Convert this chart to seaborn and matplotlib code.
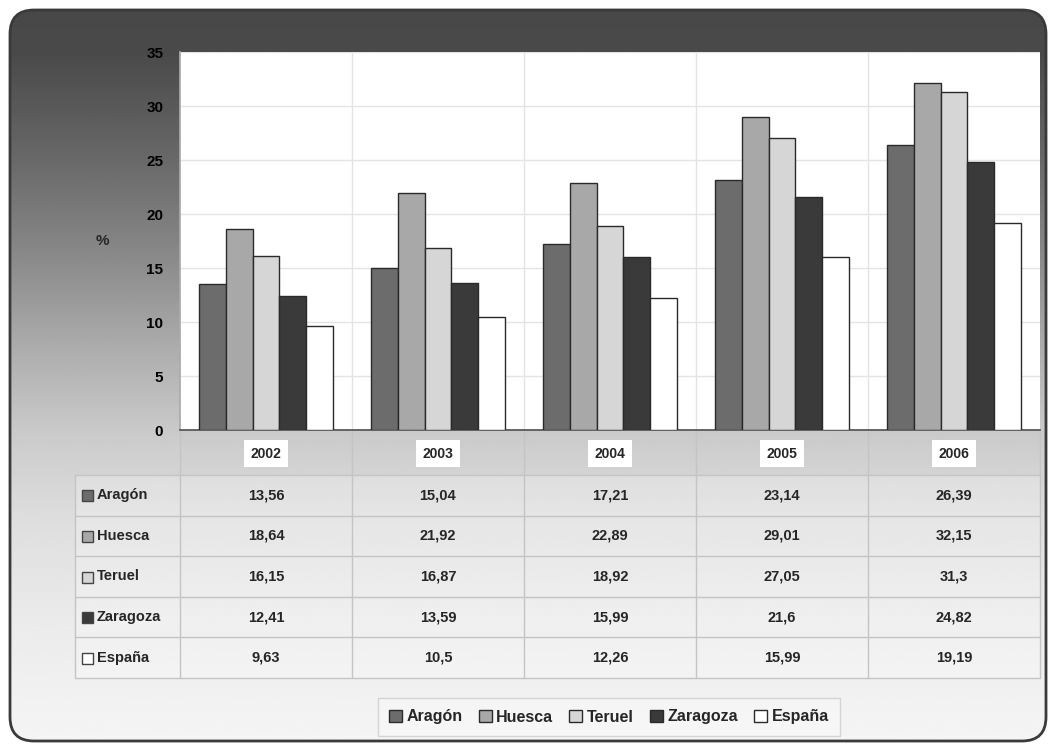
import numpy as np
import pandas as pd
import matplotlib
matplotlib.use("Agg")
import matplotlib.pyplot as plt
import seaborn as sns
from matplotlib.patches import FancyBboxPatch, Rectangle
from matplotlib import font_manager

# data
years = ["2002", "2003", "2004", "2005", "2006"]
regions = ["Aragón", "Huesca", "Teruel", "Zaragoza", "España"]
aragon = [13.56, 15.04, 17.21, 23.14, 26.39]
huesca = [18.64, 21.92, 22.89, 29.01, 32.15]
teruel = [16.15, 16.87, 18.92, 27.05, 31.3]
zaragoza = [12.41, 13.59, 15.99, 21.6, 24.82]
espana = [9.63, 10.5, 12.26, 15.99, 19.19]
colors = ["#6c6c6c", "#a8a8a8", "#d6d6d6", "#3a3a3a", "#ffffff"]

series = [aragon, huesca, teruel, zaragoza, espana]
df = pd.DataFrame({
    "year": np.repeat([years], len(regions), axis=0).ravel(),
    "region": np.repeat(regions, len(years)),
    "value": np.concatenate(series),
})

sns.set_theme(style="white")
names = {f.name for f in font_manager.fontManager.ttflist}
fam = "Liberation Sans Narrow" if "Liberation Sans Narrow" in names else "Liberation Sans"
plt.rcParams["font.family"] = [fam, "DejaVu Sans"]
plt.rcParams["font.weight"] = "bold"

W, H = 1049, 744
fig = plt.figure(figsize=(W / 100, H / 100), dpi=100)
fig.patch.set_facecolor("white")

# background panel (pixel coordinates)
bg = fig.add_axes([0, 0, 1, 1])
bg.set_xlim(0, W)
bg.set_ylim(H, 0)
bg.axis("off")
yy = np.linspace(0, H, 400)
shade = np.interp(yy, [0, 52, 150, 250, 350, 430, 520, 620, 744],
                  [0.28, 0.29, 0.40, 0.53, 0.68, 0.79, 0.87, 0.92, 0.96])
grad = np.tile(shade[:, None], (1, 10))
panel = FancyBboxPatch((10, 10), 1036, 731, boxstyle="round,pad=0,rounding_size=24",
                       facecolor="none", edgecolor="#3a3a3a", linewidth=2, zorder=5)
bg.add_patch(panel)
im = bg.imshow(grad, cmap="gray", vmin=0, vmax=1, extent=[0, W, H, 0], aspect="auto", zorder=1)
im.set_clip_path(panel)

# main bar axes
left, right, top, bottom = 180, 1040, 52, 430
ax = fig.add_axes([left / W, 1 - bottom / H, (right - left) / W, (bottom - top) / H])
ax.set_facecolor("white")
sns.barplot(data=df, x="year", y="value", hue="region", palette=colors, width=0.78,
            saturation=1, edgecolor="#2a2a2a", linewidth=1, ax=ax, zorder=3)
ax.set_ylim(0, 35)
ax.set_xlim(-0.5, len(years) - 0.5)
ax.set_yticks(range(0, 36, 5))
ax.set_xticks([])
ax.set_xticks(np.arange(0.5, len(years) - 0.5, 1), minor=True)
ax.grid(axis="y", color="#e4e4e4", linewidth=1, zorder=0)
ax.grid(axis="x", which="minor", color="#e4e4e4", linewidth=1, zorder=0)
ax.tick_params(axis="y", length=4, color="#999999", pad=8, labelsize=11, labelcolor="black")
ax.tick_params(axis="x", which="minor", length=0)
for s in ["top", "right"]:
    ax.spines[s].set_visible(False)
ax.spines["left"].set_color("#aaaaaa")
ax.spines["bottom"].set_color("#555555")
ax.set_xlabel("")
ax.set_ylabel("%", rotation=0, fontsize=11, fontweight="bold", va="center")
ax.yaxis.set_label_coords(-0.09, 0.5)
handles, labels = ax.get_legend_handles_labels()
ax.get_legend().remove()

# data table under the bars
col_w = (right - left) / len(years)
head_bot = 475
row_h = (678 - head_bot) / len(regions)
tab_left = 75
line_c = "#c4c4c4"
bg.add_patch(Rectangle((tab_left, head_bot), right - tab_left, row_h * len(regions),
                       facecolor="white", alpha=0.25, edgecolor="none", zorder=2))
for i in range(len(years) + 1):
    bg.plot([left + i * col_w] * 2, [bottom, head_bot + row_h * len(regions)],
            color=line_c, lw=1, zorder=3)
bg.plot([tab_left] * 2, [head_bot, head_bot + row_h * len(regions)], color=line_c, lw=1, zorder=3)
for r in range(len(regions) + 1):
    bg.plot([tab_left, right], [head_bot + r * row_h] * 2, color=line_c, lw=1, zorder=3)
for i, yr in enumerate(years):
    bg.text(left + (i + 0.5) * col_w, (bottom + head_bot) / 2 + 1, yr, ha="center", va="center",
            fontsize=10, fontweight="bold", zorder=4,
            bbox=dict(boxstyle="square,pad=0.5", facecolor="white", edgecolor="none"))
for r, (name, vals, c) in enumerate(zip(regions, series, colors)):
    yc = head_bot + (r + 0.5) * row_h
    bg.add_patch(Rectangle((82, yc - 5), 11, 11, facecolor=c, edgecolor="#444444", lw=1, zorder=4))
    bg.text(97, yc, name, ha="left", va="center", fontsize=10.5, fontweight="bold", zorder=4)
    for i, v in enumerate(vals):
        bg.text(left + (i + 0.5) * col_w, yc, f"{v:g}".replace(".", ","), ha="center",
                va="center", fontsize=10.5, fontweight="bold", zorder=4)

fig.legend(handles, labels, loc="center", bbox_to_anchor=(609 / W, 1 - 717 / H), ncol=5,
           frameon=True, fancybox=False, edgecolor="#cccccc", facecolor="#f7f7f7",
           handlelength=0.8, handleheight=0.8, handletextpad=0.3,
           columnspacing=1.0, borderpad=0.7, borderaxespad=0,
           prop={"weight": "bold", "size": 11.5})

fig.savefig("out.png", dpi=100)
